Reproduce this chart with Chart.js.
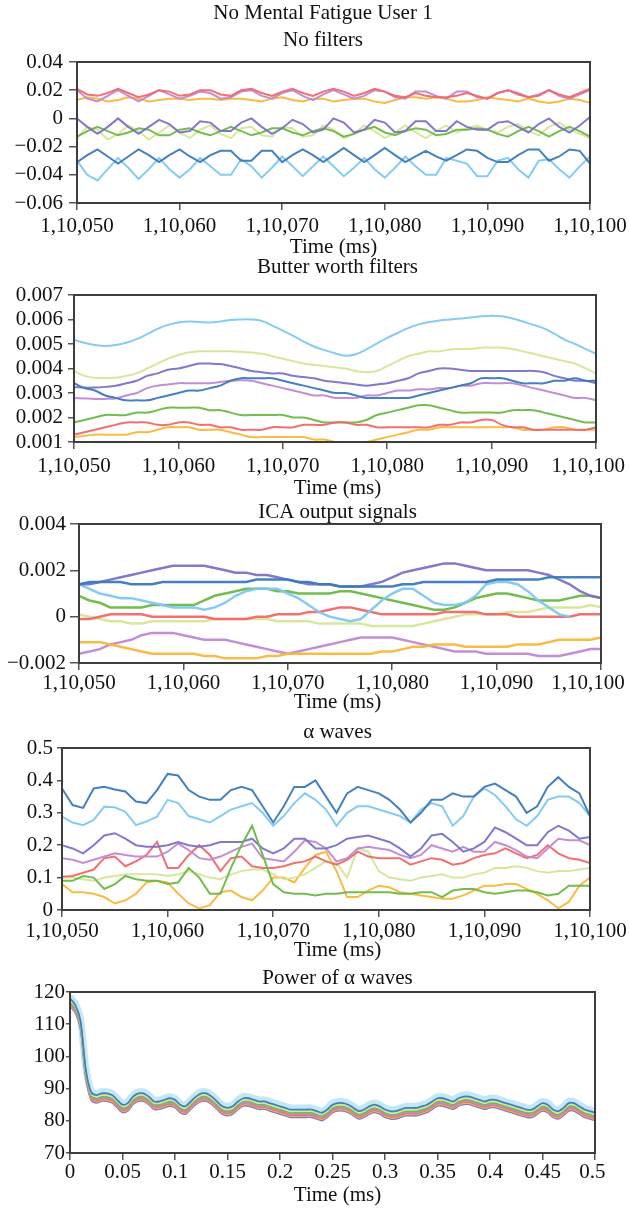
<!DOCTYPE html>
<html>
<head>
<meta charset="utf-8">
<title>No Mental Fatigue User 1</title>
<script src="https://cdn.jsdelivr.net/npm/chart.js@4.4.1/dist/chart.umd.min.js"></script>
<style>
  html, body { margin: 0; padding: 0; background: #fff; }
  body { position: relative; width: 629px; height: 1208px; overflow: hidden; }
  canvas { position: absolute; left: 0; }
</style>
</head>
<body>
<canvas id="rawChart"></canvas>
<canvas id="butterChart"></canvas>
<canvas id="icaChart"></canvas>
<canvas id="alphaChart"></canvas>
<canvas id="powerChart"></canvas>
<script>
// sample times (ms) shared by the first four panels
const msTimes = [
  110050,110051,110052,110053,110054,110055,110056,110057,110058,110059,
  110060,110061,110062,110063,110064,110065,110066,110067,110068,110069,
  110070,110071,110072,110073,110074,110075,110076,110077,110078,110079,
  110080,110081,110082,110083,110084,110085,110086,110087,110088,110089,
  110090,110091,110092,110093,110094,110095,110096,110097,110098,110099,
  110100];
const msTickValues = [110050, 110060, 110070, 110080, 110090, 110100];
const msTickLabels = ['1,10,050', '1,10,060', '1,10,070', '1,10,080', '1,10,090', '1,10,100'];

const powerTimes = [
  0,0.005,0.01,0.015,0.02,0.025,0.03,0.035,0.04,0.045,
  0.05,0.055,0.06,0.065,0.07,0.075,0.08,0.085,0.09,0.095,
  0.1,0.105,0.11,0.115,0.12,0.125,0.13,0.135,0.14,0.145,
  0.15,0.155,0.16,0.165,0.17,0.175,0.18,0.185,0.19,0.195,
  0.2,0.205,0.21,0.215,0.22,0.225,0.23,0.235,0.24,0.245,
  0.25,0.255,0.26,0.265,0.27,0.275,0.28,0.285,0.29,0.295,
  0.3,0.305,0.31,0.315,0.32,0.325,0.33,0.335,0.34,0.345,
  0.35,0.355,0.36,0.365,0.37,0.375,0.38,0.385,0.39,0.395,
  0.4,0.405,0.41,0.415,0.42,0.425,0.43,0.435,0.44,0.445,
  0.45,0.455,0.46,0.465,0.47,0.475,0.48,0.485,0.49,0.495,
  0.5];
const powerTickValues = [0, 0.05, 0.1, 0.15, 0.2, 0.25, 0.3, 0.35, 0.4, 0.45, 0.5];
const powerTickLabels = ['0', '0.05', '0.1', '0.15', '0.2', '0.25', '0.3', '0.35', '0.4', '0.45', '0.5'];

// y tick values / labels
const rawYTicks = [-0.06, -0.04, -0.02, 0, 0.02, 0.04];
const rawYLabels = ['\u22120.06', '\u22120.04', '\u22120.02', '0', '0.02', '0.04'];
const bwYTicks = [0.001, 0.002, 0.003, 0.004, 0.005, 0.006, 0.007];
const bwYLabels = ['0.001', '0.002', '0.003', '0.004', '0.005', '0.006', '0.007'];
const icaYTicks = [-0.002, 0, 0.002, 0.004];
const icaYLabels = ['\u22120.002', '0', '0.002', '0.004'];
const alphaYTicks = [0, 0.1, 0.2, 0.3, 0.4, 0.5];
const alphaYLabels = ['0', '0.1', '0.2', '0.3', '0.4', '0.5'];
const powerYTicks = [70, 80, 90, 100, 110, 120];
const powerYLabels = ['70', '80', '90', '100', '110', '120'];

// ---- No filters ----
const rawSteel = [
  -0.031,-0.026,-0.022,-0.027,-0.032,-0.027,-0.022,-0.026,-0.031,-0.026,
  -0.022,-0.027,-0.031,-0.026,-0.023,-0.023,-0.030,-0.030,-0.023,-0.023,
  -0.031,-0.026,-0.022,-0.026,-0.031,-0.026,-0.021,-0.026,-0.031,-0.026,
  -0.021,-0.026,-0.031,-0.027,-0.023,-0.027,-0.030,-0.026,-0.022,-0.023,
  -0.028,-0.031,-0.031,-0.026,-0.022,-0.022,-0.030,-0.027,-0.022,-0.023,
  -0.032];
const rawSky = [
  -0.030,-0.040,-0.044,-0.036,-0.028,-0.035,-0.043,-0.036,-0.028,-0.036,
  -0.042,-0.036,-0.028,-0.034,-0.040,-0.040,-0.029,-0.034,-0.042,-0.035,
  -0.027,-0.034,-0.041,-0.034,-0.027,-0.034,-0.041,-0.035,-0.028,-0.036,
  -0.042,-0.035,-0.027,-0.034,-0.040,-0.040,-0.028,-0.030,-0.032,-0.041,
  -0.041,-0.030,-0.028,-0.036,-0.042,-0.030,-0.029,-0.036,-0.042,-0.034,
  -0.027];
const rawViolet = [
  0.000,-0.006,-0.011,-0.006,0.000,-0.006,-0.011,-0.006,-0.001,-0.004,
  -0.010,-0.009,-0.002,-0.003,-0.009,-0.009,-0.003,0.000,-0.006,-0.011,
  -0.007,-0.001,-0.004,-0.010,-0.008,0.000,-0.003,-0.010,-0.008,-0.001,
  -0.003,-0.010,-0.009,-0.002,-0.002,-0.009,-0.009,-0.002,-0.006,-0.008,
  -0.008,-0.003,-0.002,-0.006,-0.010,-0.004,0.000,-0.006,-0.010,-0.005,
  0.001];
const rawOrchid = [
  0.020,0.014,0.012,0.016,0.020,0.016,0.012,0.016,0.020,0.017,
  0.014,0.016,0.019,0.018,0.014,0.015,0.019,0.020,0.016,0.014,
  0.018,0.020,0.016,0.013,0.017,0.020,0.017,0.014,0.016,0.020,
  0.019,0.015,0.014,0.019,0.019,0.016,0.014,0.019,0.019,0.015,
  0.014,0.018,0.020,0.018,0.015,0.017,0.020,0.016,0.014,0.017,
  0.020];
const rawSalmon = [
  0.021,0.017,0.016,0.018,0.021,0.018,0.015,0.017,0.020,0.019,
  0.016,0.017,0.020,0.020,0.017,0.016,0.020,0.021,0.018,0.016,
  0.019,0.021,0.018,0.016,0.019,0.021,0.019,0.016,0.018,0.021,
  0.019,0.016,0.015,0.018,0.016,0.015,0.015,0.016,0.018,0.016,
  0.014,0.018,0.020,0.017,0.015,0.016,0.020,0.017,0.015,0.018,
  0.021];
const rawLime = [
  -0.014,-0.006,-0.008,-0.015,-0.011,-0.005,-0.009,-0.015,-0.010,-0.005,
  -0.010,-0.014,-0.008,-0.005,-0.011,-0.014,-0.007,-0.006,-0.012,-0.013,
  -0.006,-0.007,-0.013,-0.012,-0.005,-0.008,-0.014,-0.011,-0.005,-0.009,
  -0.014,-0.010,-0.005,-0.010,-0.014,-0.009,-0.005,-0.010,-0.007,-0.005,
  -0.008,-0.010,-0.006,-0.004,-0.009,-0.012,-0.006,-0.003,-0.008,-0.011,
  -0.014];
const rawGreen = [
  -0.013,-0.009,-0.006,-0.009,-0.012,-0.010,-0.007,-0.008,-0.012,-0.012,
  -0.008,-0.007,-0.010,-0.012,-0.009,-0.006,-0.009,-0.012,-0.010,-0.007,
  -0.007,-0.010,-0.012,-0.009,-0.007,-0.009,-0.013,-0.011,-0.008,-0.006,
  -0.010,-0.012,-0.009,-0.007,-0.008,-0.012,-0.011,-0.008,-0.008,-0.007,
  -0.008,-0.011,-0.013,-0.009,-0.006,-0.009,-0.013,-0.009,-0.006,-0.009,
  -0.013];
const rawAmber = [
  0.013,0.015,0.014,0.012,0.013,0.015,0.014,0.012,0.013,0.014,
  0.014,0.013,0.014,0.014,0.013,0.014,0.014,0.013,0.012,0.014,
  0.015,0.013,0.012,0.014,0.014,0.012,0.013,0.014,0.014,0.012,
  0.011,0.013,0.015,0.015,0.014,0.015,0.014,0.012,0.012,0.013,
  0.015,0.014,0.013,0.012,0.014,0.012,0.011,0.012,0.014,0.013,
  0.011];

// ---- Butter worth filters ----
const bwSteel = [
  0.0034,0.0032,0.0031,0.0029,0.0028,0.0027,0.0027,0.0027,0.0028,0.0029,
  0.003,0.0031,0.0031,0.0032,0.0033,0.0035,0.0036,0.0036,0.0036,0.0036,
  0.0035,0.0034,0.0033,0.0032,0.0031,0.003,0.003,0.0029,0.0028,0.0028,
  0.0028,0.0028,0.0028,0.0029,0.003,0.0031,0.0032,0.0033,0.0034,0.0036,
  0.0036,0.0036,0.0035,0.0034,0.0034,0.0034,0.0035,0.0035,0.0036,0.0035,
  0.0035];
const bwSky = [
  0.00517,0.00505,0.00496,0.00492,0.00496,0.00505,0.0052,0.0054,0.00562,0.00578,
  0.00588,0.00592,0.0059,0.00588,0.00592,0.00598,0.006,0.006,0.00594,0.00575,
  0.00555,0.00533,0.0051,0.0049,0.00475,0.00462,0.00452,0.00458,0.00478,0.00502,
  0.00525,0.00545,0.00565,0.0058,0.0059,0.00596,0.006,0.00604,0.00608,0.00613,
  0.00615,0.00613,0.00604,0.00592,0.00578,0.00564,0.00542,0.00518,0.005,0.0048,
  0.0046];
const bwViolet = [
  0.00325,0.00322,0.00322,0.00325,0.0033,0.0034,0.0035,0.0037,0.0038,0.00395,
  0.004,0.0041,0.0042,0.0042,0.00418,0.0041,0.004,0.0039,0.00385,0.0038,
  0.0038,0.0037,0.00365,0.0036,0.0035,0.00345,0.0034,0.00335,0.0033,0.00335,
  0.0034,0.0035,0.0036,0.0038,0.0039,0.004,0.004,0.00395,0.0039,0.0039,
  0.0039,0.0039,0.0039,0.0039,0.0039,0.00385,0.0037,0.0036,0.0035,0.0035,
  0.0034];
const bwOrchid = [
  0.0028,0.00278,0.00276,0.00276,0.00278,0.0029,0.003,0.0032,0.0033,0.00335,
  0.0034,0.0034,0.0034,0.0034,0.00345,0.0035,0.00352,0.0035,0.0034,0.0033,
  0.0032,0.0031,0.003,0.0029,0.0029,0.0028,0.0028,0.0028,0.0029,0.0029,
  0.003,0.0031,0.0031,0.00315,0.00315,0.0032,0.0032,0.0033,0.0033,0.0034,
  0.0034,0.0034,0.0034,0.0033,0.0032,0.0031,0.003,0.0029,0.0028,0.0028,
  0.0027];
const bwSalmon = [
  0.0013,0.0014,0.0015,0.0016,0.0017,0.0018,0.0018,0.0018,0.0017,0.0017,
  0.0018,0.0018,0.0017,0.0017,0.0016,0.0016,0.0015,0.0015,0.0015,0.0016,
  0.0016,0.0016,0.0017,0.0017,0.0017,0.0018,0.0018,0.0017,0.0017,0.0016,
  0.0016,0.0016,0.0016,0.0016,0.0016,0.0017,0.0017,0.0018,0.0018,0.0019,
  0.0019,0.0017,0.0016,0.0016,0.0015,0.0015,0.0015,0.0015,0.0015,0.0015,
  0.0016];
const bwLime = [
  0.0039,0.0037,0.00362,0.0036,0.00362,0.0037,0.0038,0.004,0.0042,0.0044,
  0.00455,0.00465,0.0047,0.0047,0.0047,0.0047,0.00468,0.00465,0.0046,0.0045,
  0.0044,0.0043,0.0042,0.00415,0.0041,0.00405,0.004,0.0039,0.00385,0.0039,
  0.0041,0.0043,0.0045,0.0046,0.0047,0.0047,0.00478,0.0048,0.0048,0.00485,
  0.00485,0.00485,0.0048,0.0047,0.0046,0.0045,0.0044,0.0043,0.0042,0.004,
  0.0038];
const bwGreen = [
  0.0018,0.0019,0.002,0.0021,0.0021,0.0021,0.0022,0.0022,0.0023,0.0024,
  0.0024,0.0024,0.0024,0.0023,0.0023,0.0022,0.0021,0.0021,0.0021,0.0021,
  0.0021,0.002,0.002,0.0019,0.0018,0.0018,0.0018,0.0018,0.0019,0.0021,
  0.0022,0.0023,0.0024,0.0025,0.0025,0.0024,0.0023,0.0022,0.0022,0.0022,
  0.0022,0.0022,0.0023,0.0023,0.0023,0.0022,0.0021,0.002,0.0019,0.0018,
  0.0018];
const bwAmber = [
  0.0012,0.00125,0.0013,0.0013,0.0013,0.0013,0.0014,0.0014,0.0015,0.0016,
  0.0016,0.0016,0.0015,0.0015,0.0015,0.0014,0.0013,0.0012,0.0012,0.0012,
  0.0012,0.0012,0.0012,0.0011,0.0011,0.001,0.001,0.001,0.001,0.0011,
  0.0012,0.0013,0.0014,0.0015,0.0015,0.0016,0.0016,0.0016,0.0016,0.0016,
  0.0016,0.0016,0.0016,0.0015,0.0015,0.0015,0.0016,0.0016,0.0015,0.0015,
  0.0015];

// ---- ICA output signals ----
const icaSteel = [
  0.0014,0.0015,0.0015,0.0015,0.0015,0.0014,0.0014,0.0014,0.0015,0.0015,
  0.0015,0.0015,0.0015,0.0015,0.0015,0.0015,0.0015,0.0016,0.0016,0.0016,
  0.0016,0.0015,0.0015,0.0014,0.0014,0.0013,0.0013,0.0013,0.0013,0.0013,
  0.0013,0.0014,0.0014,0.0015,0.0015,0.0015,0.0015,0.0015,0.0015,0.0015,
  0.0016,0.0016,0.0016,0.0016,0.0016,0.0017,0.0017,0.0017,0.0017,0.0017,
  0.0017];
const icaSky = [
  0.0014,0.0012,0.001,0.0009,0.0008,0.0008,0.0007,0.0006,0.0005,0.0004,
  0.0004,0.0004,0.0003,0.0004,0.0006,0.0009,0.0011,0.0012,0.0012,0.0012,
  0.001,0.0008,0.0005,0.0002,0,-0.0001,-0.0002,-0.0001,0.0003,0.0007,
  0.001,0.0012,0.0012,0.0009,0.0006,0.0005,0.0005,0.0006,0.0009,0.0014,
  0.0015,0.0015,0.0014,0.0011,0.0007,0.0004,0.0001,0,null,null,
  null];
const icaViolet = [
  0.0014,0.0014,0.0015,0.0016,0.0017,0.0018,0.0019,0.002,0.0021,0.0022,
  0.0022,0.0022,0.0022,0.0021,0.002,0.0019,0.0019,0.0018,0.0018,0.0017,
  0.0016,0.0015,0.0014,0.0014,0.0014,0.0013,0.0013,0.0013,0.0014,0.0015,
  0.0017,0.0019,0.002,0.0021,0.0022,0.0023,0.0023,0.0022,0.0021,0.002,
  0.002,0.002,0.002,0.002,0.0019,0.0018,0.0016,0.0014,0.0011,0.0009,
  0.0008];
const icaOrchid = [
  -0.0016,-0.0015,-0.0014,-0.0012,-0.0011,-0.001,-0.0008,-0.0007,-0.0007,-0.0007,
  -0.0008,-0.0009,-0.001,-0.001,-0.001,-0.0011,-0.0012,-0.0013,-0.0014,-0.0015,
  -0.0016,-0.0015,-0.0014,-0.0013,-0.0012,-0.0011,-0.001,-0.0009,-0.0009,-0.0009,
  -0.0009,-0.001,-0.0011,-0.0012,-0.0013,-0.0014,-0.0015,-0.0015,-0.0015,-0.0016,
  -0.0016,-0.0016,-0.0016,-0.0016,-0.0017,-0.0017,-0.0017,-0.0016,-0.0015,-0.0014,
  -0.0014];
const icaSalmon = [
  -0.0001,-0.0001,0,0.0001,0.0001,0.0001,0.0001,0,0,0,
  0,0,0,-0.0001,-0.0001,-0.0001,-0.0001,0,0,0.0001,
  0.0001,0.0001,0.0002,0.0002,0.0003,0.0004,0.0004,0.0003,0.0002,0.0001,
  0.0001,0.0001,0.0001,0.0001,0.0001,0.0002,0.0002,0.0002,0.0002,0.0001,
  0.0001,0.0001,0,0,0,0,0,0,0.0001,0.0001,
  0.0001];
const icaLime = [
  0.0001,0,-0.0001,-0.0002,-0.0002,-0.0003,-0.0003,-0.0002,-0.0002,-0.0002,
  -0.0002,-0.0002,-0.0002,-0.0001,-0.0001,-0.0001,-0.0001,-0.0001,-0.0001,-0.0002,
  -0.0002,-0.0002,-0.0002,-0.0003,-0.0003,-0.0003,-0.0003,-0.0003,-0.0004,-0.0004,
  -0.0004,-0.0004,-0.0004,-0.0003,-0.0002,-0.0001,0,0.0001,0.0001,0.0001,
  0.0001,0.0002,0.0002,0.0002,0.0003,0.0004,0.0004,0.0004,0.0004,0.0005,
  0.0004];
const icaGreen = [
  0.0009,0.0007,0.0006,0.0004,0.0004,0.0004,0.0004,0.0005,0.0005,0.0005,
  0.0005,0.0005,0.0007,0.0009,0.001,0.0011,0.0012,0.0012,0.0012,0.0011,
  0.0011,0.001,0.001,0.001,0.001,0.0011,0.0011,0.001,0.0009,0.0008,
  0.0007,0.0006,0.0005,0.0004,0.0003,0.0003,0.0004,0.0006,0.0008,0.0009,
  0.001,0.001,0.0009,0.0008,0.0007,0.0007,0.0007,0.0008,0.0009,0.0009,
  0.0008];
const icaAmber = [
  -0.0011,-0.0011,-0.0011,-0.0012,-0.0013,-0.0014,-0.0015,-0.0016,-0.0016,-0.0016,
  -0.0016,-0.0016,-0.0017,-0.0017,-0.0018,-0.0018,-0.0018,-0.0018,-0.0017,-0.0017,
  -0.0016,-0.0016,-0.0016,-0.0016,-0.0016,-0.0016,-0.0016,-0.0016,-0.0016,-0.0015,
  -0.0015,-0.0014,-0.0013,-0.0013,-0.0012,-0.0012,-0.0012,-0.0013,-0.0013,-0.0013,
  -0.0013,-0.0013,-0.0012,-0.0012,-0.0012,-0.0011,-0.001,-0.001,-0.001,-0.001,
  -0.0009];

// ---- alpha waves ----
const alphaSteel = [
  0.375,0.324,0.315,0.375,0.38,0.372,0.366,0.335,0.33,0.37,
  0.42,0.415,0.37,0.35,0.34,0.34,0.37,0.38,0.37,0.32,
  0.27,0.32,0.38,0.38,0.40,0.35,0.30,0.36,0.38,0.37,
  0.36,0.34,0.31,0.27,0.30,0.34,0.34,0.36,0.35,0.35,
  0.38,0.39,0.37,0.35,0.30,0.32,0.38,0.41,0.38,0.36,
  0.29];
const alphaSky = [
  0.288,0.27,0.262,0.278,0.319,0.317,0.303,0.262,0.273,0.288,
  0.34,0.33,0.29,0.28,0.27,0.29,0.31,0.32,0.33,0.30,
  0.26,0.29,0.33,0.36,0.34,0.31,0.26,0.30,0.32,0.32,
  0.31,0.30,0.29,0.27,0.31,0.33,0.32,0.26,0.29,0.35,
  0.375,0.355,0.32,0.28,0.26,0.29,0.34,0.35,0.35,0.33,
  0.29];
const alphaViolet = [
  0.20,0.19,0.175,0.20,0.23,0.237,0.22,0.20,0.195,0.195,
  0.20,0.21,0.20,0.195,0.20,0.21,0.21,0.21,0.22,0.19,
  0.175,0.19,0.22,0.22,0.19,0.19,0.20,0.22,0.225,0.23,
  0.22,0.21,0.19,0.165,0.19,0.23,0.235,0.21,0.18,0.19,
  0.21,0.255,0.24,0.22,0.20,0.20,0.24,0.26,0.245,0.22,
  0.225];
const alphaOrchid = [
  0.16,0.155,0.145,0.155,0.165,0.175,0.17,0.165,0.165,0.165,
  0.18,0.205,0.185,0.16,0.155,0.165,0.18,0.195,0.205,0.16,
  0.155,0.15,0.18,0.215,0.21,0.19,0.15,0.16,0.19,0.195,
  0.19,0.185,0.17,0.16,0.17,0.20,0.19,0.18,0.195,0.18,
  0.18,0.21,0.20,0.185,0.165,0.16,0.19,0.22,0.215,0.215,
  0.20];
const alphaSalmon = [
  0.103,0.105,0.115,0.125,0.16,0.165,0.135,0.15,0.17,0.21,
  0.13,0.13,0.17,0.20,0.17,0.12,0.16,0.165,0.135,0.13,
  0.13,0.135,0.145,0.15,0.165,0.15,0.14,0.155,0.18,0.165,
  0.16,0.16,0.16,0.14,0.15,0.16,0.155,0.14,0.145,0.16,
  0.17,0.175,0.19,0.175,0.16,0.17,0.20,0.175,0.16,0.155,
  0.145];
const alphaLime = [
  0.10,0.10,0.095,0.09,0.10,0.105,0.11,0.11,0.11,0.11,
  0.105,0.11,0.12,0.11,0.10,0.095,0.11,0.12,0.125,0.125,
  0.11,0.095,0.10,0.11,0.13,0.15,0.145,0.10,0.19,0.18,
  0.12,0.10,0.095,0.09,0.10,0.105,0.11,0.10,0.10,0.11,
  0.115,0.13,0.13,0.135,0.13,0.12,0.115,0.12,0.12,0.125,
  0.13];
const alphaGreen = [
  0.09,0.09,0.105,0.10,0.065,0.08,0.105,0.095,0.09,0.09,
  0.08,0.085,0.13,0.10,0.05,0.05,0.13,0.20,0.26,0.17,
  0.08,0.055,0.05,0.05,0.045,0.05,0.05,0.055,0.055,0.055,
  0.055,0.055,0.05,0.05,0.055,0.055,0.04,0.06,0.065,0.065,
  0.055,0.05,0.055,0.06,0.06,0.055,0.045,0.05,0.075,0.075,
  0.075];
const alphaAmber = [
  0.08,0.055,0.055,0.05,0.04,0.02,0.03,0.05,0.085,0.09,
  0.085,0.05,0.02,0.005,0.015,0.055,0.06,0.04,0.03,0.06,
  0.10,0.10,0.085,0.13,0.17,0.18,0.12,0.04,0.04,0.06,
  0.075,0.07,0.055,0.05,0.045,0.04,0.035,0.035,0.045,0.06,
  0.075,0.075,0.08,0.08,0.065,0.05,0.03,0.005,0.025,0.075,
  0.10];

// ---- Power of alpha waves ----
const powerSky = [
  118.5,116.5,111.5,96.5,89.5,88.5,89,89,88.5,87,
  85.5,86,88,89,89,88,86.5,86.5,87,87.5,
  87,85.5,85,86.5,88,89,89,88,86.5,85,
  84.5,85,86.5,87.5,87.5,87,86.5,86.5,86,85.5,
  85,84.5,84,84,84,84,84,83.5,83,84,
  85.5,86,86,85.5,84.5,83.5,84,85,85.5,85,
  84,83.5,83.5,84,84.5,84.5,84.5,85,85.5,86.5,
  87.5,87.5,87,86.5,87.5,88,88,87.5,87,86.5,
  87,87,86.5,86,85.5,85,84.5,84,84,85,
  86,85.5,84,83.5,84.5,86,86,85,84,83.5,
  83];
const powerSteel = [
  118,116,111,96,89,88,88.5,88.5,88,86.5,
  85,85.5,87.5,88.5,88.5,87.5,86,86,86.5,87,
  86.5,85,84.5,86,87.5,88.5,88.5,87.5,86,84.5,
  84,84.5,86,87,87,86.5,86,86,85.5,85,
  84.5,84,83.5,83.5,83.5,83.5,83.5,83,82.5,83.5,
  85,85.5,85.5,85,84,83,83.5,84.5,85,84.5,
  83.5,83,83,83.5,84,84,84,84.5,85,86,
  87,87,86.5,86,87,87.5,87.5,87,86.5,86,
  86.5,86.5,86,85.5,85,84.5,84,83.5,83.5,84.5,
  85.5,85,83.5,83,84,85.5,85.5,84.5,83.5,83,
  82.5];
const powerLime = [
  117.5,115.5,110.5,95.5,88.5,87.5,88,88,87.5,86,
  84.5,85,87,88,88,87,85.5,85.5,86,86.5,
  86,84.5,84,85.5,87,88,88,87,85.5,84,
  83.5,84,85.5,86.5,86.5,86,85.5,85.5,85,84.5,
  84,83.5,83,83,83,83,83,82.5,82,83,
  84.5,85,85,84.5,83.5,82.5,83,84,84.5,84,
  83,82.5,82.5,83,83.5,83.5,83.5,84,84.5,85.5,
  86.5,86.5,86,85.5,86.5,87,87,86.5,86,85.5,
  86,86,85.5,85,84.5,84,83.5,83,83,84,
  85,84.5,83,82.5,83.5,85,85,84,83,82.5,
  82];
const powerGreen = [
  117,115,110,95,88,87,87.5,87.5,87,85.5,
  84,84.5,86.5,87.5,87.5,86.5,85,85,85.5,86,
  85.5,84,83.5,85,86.5,87.5,87.5,86.5,85,83.5,
  83,83.5,85,86,86,85.5,85,85,84.5,84,
  83.5,83,82.5,82.5,82.5,82.5,82.5,82,81.5,82.5,
  84,84.5,84.5,84,83,82,82.5,83.5,84,83.5,
  82.5,82,82,82.5,83,83,83,83.5,84,85,
  86,86,85.5,85,86,86.5,86.5,86,85.5,85,
  85.5,85.5,85,84.5,84,83.5,83,82.5,82.5,83.5,
  84.5,84,82.5,82,83,84.5,84.5,83.5,82.5,82,
  81.5];
const powerOrchid = [
  116.6,114.6,109.6,94.6,87.6,86.6,87.1,87.1,86.6,85.1,
  83.6,84.1,86.1,87.1,87.1,86.1,84.6,84.6,85.1,85.6,
  85.1,83.6,83.1,84.6,86.1,87.1,87.1,86.1,84.6,83.1,
  82.6,83.1,84.6,85.6,85.6,85.1,84.6,84.6,84.1,83.6,
  83.1,82.6,82.1,82.1,82.1,82.1,82.1,81.6,81.1,82.1,
  83.6,84.1,84.1,83.6,82.6,81.6,82.1,83.1,83.6,83.1,
  82.1,81.6,81.6,82.1,82.6,82.6,82.6,83.1,83.6,84.6,
  85.6,85.6,85.1,84.6,85.6,86.1,86.1,85.6,85.1,84.6,
  85.1,85.1,84.6,84.1,83.6,83.1,82.6,82.1,82.1,83.1,
  84.1,83.6,82.1,81.6,82.6,84.1,84.1,83.1,82.1,81.6,
  81.1];
const powerSalmon = [
  116.3,114.3,109.3,94.3,87.3,86.3,86.8,86.8,86.3,84.8,
  83.3,83.8,85.8,86.8,86.8,85.8,84.3,84.3,84.8,85.3,
  84.8,83.3,82.8,84.3,85.8,86.8,86.8,85.8,84.3,82.8,
  82.3,82.8,84.3,85.3,85.3,84.8,84.3,84.3,83.8,83.3,
  82.8,82.3,81.8,81.8,81.8,81.8,81.8,81.3,80.8,81.8,
  83.3,83.8,83.8,83.3,82.3,81.3,81.8,82.8,83.3,82.8,
  81.8,81.3,81.3,81.8,82.3,82.3,82.3,82.8,83.3,84.3,
  85.3,85.3,84.8,84.3,85.3,85.8,85.8,85.3,84.8,84.3,
  84.8,84.8,84.3,83.8,83.3,82.8,82.3,81.8,81.8,82.8,
  83.8,83.3,81.8,81.3,82.3,83.8,83.8,82.8,81.8,81.3,
  80.8];
const powerAmber = [
  116,114,109,94,87,86,86.5,86.5,86,84.5,
  83,83.5,85.5,86.5,86.5,85.5,84,84,84.5,85,
  84.5,83,82.5,84,85.5,86.5,86.5,85.5,84,82.5,
  82,82.5,84,85,85,84.5,84,84,83.5,83,
  82.5,82,81.5,81.5,81.5,81.5,81.5,81,80.5,81.5,
  83,83.5,83.5,83,82,81,81.5,82.5,83,82.5,
  81.5,81,81,81.5,82,82,82,82.5,83,84,
  85,85,84.5,84,85,85.5,85.5,85,84.5,84,
  84.5,84.5,84,83.5,83,82.5,82,81.5,81.5,82.5,
  83.5,83,81.5,81,82,83.5,83.5,82.5,81.5,81,
  80.5];
const powerViolet = [
  115.6,113.6,108.6,93.6,86.6,85.6,86.1,86.1,85.6,84.1,
  82.6,83.1,85.1,86.1,86.1,85.1,83.6,83.6,84.1,84.6,
  84.1,82.6,82.1,83.6,85.1,86.1,86.1,85.1,83.6,82.1,
  81.6,82.1,83.6,84.6,84.6,84.1,83.6,83.6,83.1,82.6,
  82.1,81.6,81.1,81.1,81.1,81.1,81.1,80.6,80.1,81.1,
  82.6,83.1,83.1,82.6,81.6,80.6,81.1,82.1,82.6,82.1,
  81.1,80.6,80.6,81.1,81.6,81.6,81.6,82.1,82.6,83.6,
  84.6,84.6,84.1,83.6,84.6,85.1,85.1,84.6,84.1,83.6,
  84.1,84.1,83.6,83.1,82.6,82.1,81.6,81.1,81.1,82.1,
  83.1,82.6,81.1,80.6,81.6,83.1,83.1,82.1,81.1,80.6,
  80.1];

const steel = 'rgba(58,122,186,0.95)';
const sky = 'rgba(125,202,240,0.95)';
const violet = 'rgba(122,114,201,0.95)';
const orchid = 'rgba(192,136,212,0.95)';
const salmon = 'rgba(242,104,104,0.95)';
const lime = 'rgba(214,230,150,0.95)';
const green = 'rgba(108,185,68,0.95)';
const amber = 'rgba(249,183,57,0.95)';

const serif = "'Liberation Serif', 'Times New Roman', serif";
const textColor = '#111';

// box round the plot area
const frame = {
  id: 'frame',
  afterDatasetsDraw(chart) {
    const { ctx, chartArea } = chart;
    ctx.save();
    ctx.strokeStyle = '#3d3d3d';
    ctx.lineWidth = 2;
    ctx.strokeRect(chartArea.left, chartArea.top, chartArea.right - chartArea.left, chartArea.bottom - chartArea.top);
    ctx.restore();
  }
};

function drawPanel(id, p) {
  const canvas = document.getElementById(id);
  canvas.width = p.width;
  canvas.height = p.height;
  canvas.style.top = p.top + 'px';

  const tickFont = { family: serif, size: 21 };
  const labelFont = { family: serif, size: 21, weight: 'normal', lineHeight: '24px' };
  const lastTick = p.xTicks.length - 1;

  return new Chart(canvas, {
    type: 'line',
    data: {
      labels: p.times,
      datasets: p.series.map(s => ({
        data: s[0],
        borderColor: s[1],
        borderWidth: s[2] || p.lineWidth,
        pointRadius: 0,
        tension: p.tension,
        fill: false
      }))
    },
    options: {
      responsive: false,
      animation: false,
      events: [],
      layout: { padding: 0 },
      plugins: {
        legend: { display: false },
        tooltip: { enabled: false },
        title: {
          display: true,
          text: p.title,
          color: textColor,
          font: { family: serif, size: 21, weight: 'normal', lineHeight: p.titleLine + 'px' },
          padding: { top: 0, bottom: p.titleGap }
        },
        // "Time (ms)" under the panel, centred like the panel titles;
        // it tucks up against the tick labels, hence the negative top padding
        subtitle: {
          display: !p.axisTitle,
          position: 'bottom',
          text: 'Time (ms)',
          color: textColor,
          font: labelFont,
          padding: { top: -10, bottom: 0 }
        }
      },
      scales: {
        x: {
          type: 'linear',
          min: p.xTicks[0],
          max: p.xTicks[lastTick],
          afterBuildTicks: axis => { axis.ticks = p.xTicks.map(v => ({ value: v })); },
          afterFit: axis => { axis.height = p.xHeight; axis.paddingLeft = 0; axis.paddingRight = 0; },
          title: { display: !!p.axisTitle, text: 'Time (ms)', color: textColor, font: labelFont, padding: 0 },
          ticks: {
            autoSkip: false, maxRotation: 0, minRotation: 0,
            padding: p.xPad, color: textColor, font: tickFont,
            // the last label is nudged left so it stays inside the page
            callback: (v, i) => p.xLabels[i] + (i === lastTick ? '\u00a0'.repeat(p.lastNudge || 0) : '')
          },
          grid: { display: true, drawOnChartArea: false, tickLength: 7, color: '#555', lineWidth: 1.5 },
          border: { display: false }
        },
        y: {
          type: 'linear',
          min: p.yTicks[0],
          max: p.yTicks[p.yTicks.length - 1],
          afterBuildTicks: axis => { axis.ticks = p.yTicks.map(v => ({ value: v })); },
          afterFit: axis => { axis.width = p.left; axis.paddingTop = 0; axis.paddingBottom = 0; },
          ticks: {
            autoSkip: false,
            padding: p.yPad, color: textColor, font: tickFont,
            callback: (v, i) => p.yLabels[i]
          },
          grid: { display: true, drawOnChartArea: false, tickLength: p.yTickLen, color: '#555', lineWidth: 1.5 },
          border: { display: false }
        },
        // empty room to the right of the plot
        spacer: {
          type: 'linear',
          position: 'right',
          display: true,
          ticks: { display: false },
          grid: { display: false },
          border: { display: false },
          afterFit: axis => { axis.width = p.width - p.right; }
        }
      }
    },
    plugins: [frame]
  });
}

drawPanel('rawChart', {
  top: 0, height: 259, width: 646, left: 77, right: 590, axisTitle: true,
  title: ['No Mental Fatigue User 1', 'No filters'], titleLine: 27, titleGap: 8,
  xHeight: 56, xPad: 4, yTickLen: 8, yPad: 6, lastNudge: 0,
  times: msTimes, xTicks: msTickValues, xLabels: msTickLabels,
  yTicks: rawYTicks, yLabels: rawYLabels,
  lineWidth: 2, tension: 0,
  series: [[rawSalmon, salmon], [rawOrchid, orchid], [rawAmber, amber], [rawViolet, violet],
           [rawGreen, green], [rawLime, lime], [rawSteel, steel], [rawSky, sky]]
});

drawPanel('butterChart', {
  top: 255, height: 245, width: 675, left: 74, right: 596,
  title: 'Butter worth filters', titleLine: 24, titleGap: 16,
  xHeight: 44, xPad: 5, yTickLen: 6, yPad: 5, lastNudge: 3,
  times: msTimes, xTicks: msTickValues, xLabels: msTickLabels,
  yTicks: bwYTicks, yLabels: bwYLabels,
  lineWidth: 2, tension: 0.4,
  series: [[bwSteel, steel], [bwSky, sky], [bwViolet, violet], [bwOrchid, orchid],
           [bwSalmon, salmon], [bwLime, lime], [bwGreen, green], [bwAmber, amber]]
});

drawPanel('icaChart', {
  top: 500, height: 214, width: 675, left: 79, right: 601,
  title: 'ICA output signals', titleLine: 24, titleGap: 0,
  xHeight: 37, xPad: 1, yTickLen: 9, yPad: 4, lastNudge: 5,
  times: msTimes, xTicks: msTickValues, xLabels: msTickLabels,
  yTicks: icaYTicks, yLabels: icaYLabels,
  lineWidth: 2.5, tension: 0,
  series: [[icaSteel, steel], [icaViolet, violet], [icaSky, sky], [icaGreen, green],
           [icaSalmon, salmon], [icaLime, lime], [icaAmber, amber], [icaOrchid, orchid]]
});

drawPanel('alphaChart', {
  top: 720, height: 242, width: 675, left: 62, right: 590,
  title: '\u03b1 waves', titleLine: 24, titleGap: 4,
  xHeight: 38, xPad: 2, yTickLen: 5, yPad: 4, lastNudge: 0,
  times: msTimes, xTicks: msTickValues, xLabels: msTickLabels,
  yTicks: alphaYTicks, yLabels: alphaYLabels,
  lineWidth: 2, tension: 0,
  series: [[alphaSteel, steel], [alphaSky, sky], [alphaGreen, green], [alphaViolet, violet],
           [alphaOrchid, orchid], [alphaSalmon, salmon], [alphaLime, lime], [alphaAmber, amber]]
});

drawPanel('powerChart', {
  top: 966, height: 241, width: 675, left: 70, right: 595,
  title: 'Power of \u03b1 waves', titleLine: 24, titleGap: 2,
  xHeight: 40, xPad: 0, yTickLen: 4, yPad: 1, lastNudge: 1,
  times: powerTimes, xTicks: powerTickValues, xLabels: powerTickLabels,
  yTicks: powerYTicks, yLabels: powerYLabels,
  lineWidth: 1.8, tension: 0.3,
  series: [[powerSteel, steel], [powerLime, lime], [powerGreen, green], [powerOrchid, orchid],
           [powerSalmon, salmon], [powerAmber, amber], [powerViolet, violet],
           [powerSky, 'rgba(125,202,240,0.45)', 7]]
});
</script>
</body>
</html>
